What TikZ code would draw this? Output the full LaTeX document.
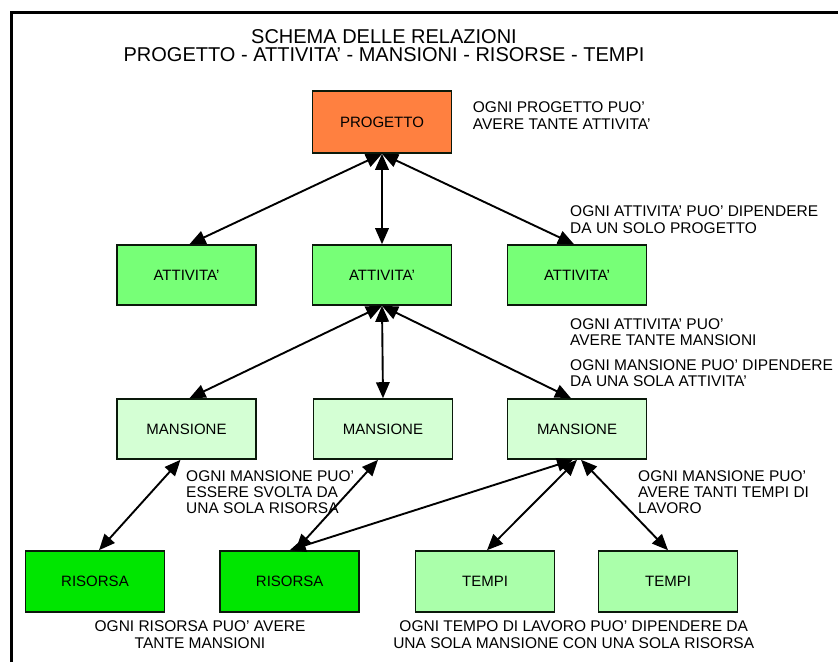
\documentclass[tikz,border=0pt]{standalone}
\usepackage{fontspec}
\setmainfont{Liberation Sans}
\usetikzlibrary{arrows.meta}
\definecolor{cprog}{RGB}{255,128,64}
\definecolor{catt}{RGB}{119,255,119}
\definecolor{cman}{RGB}{212,255,212}
\definecolor{cris}{RGB}{0,230,0}
\definecolor{ctem}{RGB}{170,255,170}
\definecolor{cedge}{RGB}{10,25,10}
\begin{document}
\begin{tikzpicture}[x=1pt,y=-1pt,
 box/.style={draw=cedge,line width=1.6pt,minimum width=139pt,minimum height=60pt,inner sep=0pt,font=\fontsize{15}{18}\selectfont},
 dbl/.style={{Triangle[length=16pt,width=13.5pt]}-{Triangle[length=16pt,width=13.5pt]},line width=1.9pt},
 note/.style={inner sep=0pt,align=left,font=\fontsize{15.5}{16.3}\selectfont},
 notec/.style={inner sep=0pt,align=center,font=\fontsize{15.5}{16.3}\selectfont},
 frameline/.style={line width=2.7pt}
]
\useasboundingbox (0,0) rectangle (838,662);
\draw[frameline] (11.3,662) -- (11.3,12.8) -- (838,12.8);

\node[align=center,font=\fontsize{20}{18.4}\selectfont,anchor=north,inner sep=0pt] (title) at (384,29.3) {SCHEMA DELLE RELAZIONI\\PROGETTO - ATTIVITA’ - MANSIONI - RISORSE - TEMPI};

\node[box,fill=cprog,minimum height=62pt] (prog) at (382,122) {PROGETTO};
\node[box,fill=catt] (a1) at (186.5,275) {ATTIVITA’};
\node[box,fill=catt] (a2) at (382,275) {ATTIVITA’};
\node[box,fill=catt] (a3) at (577,275) {ATTIVITA’};
\node[box,fill=cman] (m1) at (186.5,429) {MANSIONE};
\node[box,fill=cman] (m2) at (383,429) {MANSIONE};
\node[box,fill=cman] (m3) at (577,429) {MANSIONE};
\node[box,fill=cris,minimum height=61pt] (r1) at (95,581.5) {RISORSA};
\node[box,fill=cris,minimum height=61pt] (r2) at (289.7,581.5) {RISORSA};
\node[box,fill=ctem,minimum height=61pt] (t1) at (485,581.5) {TEMPI};
\node[box,fill=ctem,minimum height=61pt] (t2) at (668,581.5) {TEMPI};

\draw[dbl] (prog.south) -- ([xshift=3pt]a1.north);
\draw[dbl] (prog.south) -- (a2.north);
\draw[dbl] (prog.south) -- ([xshift=-3pt]a3.north);
\draw[dbl] (a2.south) -- ([xshift=3pt]m1.north);
\draw[dbl] (a2.south) -- (m2.north);
\draw[dbl] (a2.south) -- ([xshift=-6pt]m3.north);
\draw[dbl] ([xshift=-6pt]m1.south) -- ([xshift=4pt]r1.north);
\draw[dbl] ([xshift=-5pt]m2.south) -- ([xshift=6pt]r2.north);
\draw[dbl] ([xshift=-4pt]m3.south) -- (r2.north);
\draw[dbl] (m3.south) -- ([xshift=2pt]t1.north);
\draw[dbl] ([xshift=4pt]m3.south) -- (t2.north);

\node[note,anchor=north west] (n1) at (472.7,101.7) {OGNI PROGETTO PUO’\\AVERE TANTE ATTIVITA’};
\node[note,anchor=north west] (n2) at (570,205.7) {OGNI ATTIVITA’ PUO’ DIPENDERE\\DA UN SOLO PROGETTO};
\node[note,anchor=north west] (n3) at (570,318.3) {OGNI ATTIVITA’ PUO’\\AVERE TANTE MANSIONI};
\node[note,anchor=north west] (n4) at (570,359) {OGNI MANSIONE PUO’ DIPENDERE\\DA UNA SOLA ATTIVITA’};
\node[note,anchor=north west] (n5) at (186,470) {OGNI MANSIONE PUO’\\ESSERE SVOLTA DA\\UNA SOLA RISORSA};
\node[note,anchor=north west] (n6) at (638,470) {OGNI MANSIONE PUO’\\AVERE TANTI TEMPI DI\\LAVORO};
\node[notec,anchor=north] (n7) at (200,620.7) {OGNI RISORSA PUO’ AVERE\\TANTE MANSIONI};
\node[notec,anchor=north] (n8) at (573.7,620.7) {OGNI TEMPO DI LAVORO PUO’ DIPENDERE DA\\UNA SOLA MANSIONE CON UNA SOLA RISORSA};
\end{tikzpicture}
\end{document}
